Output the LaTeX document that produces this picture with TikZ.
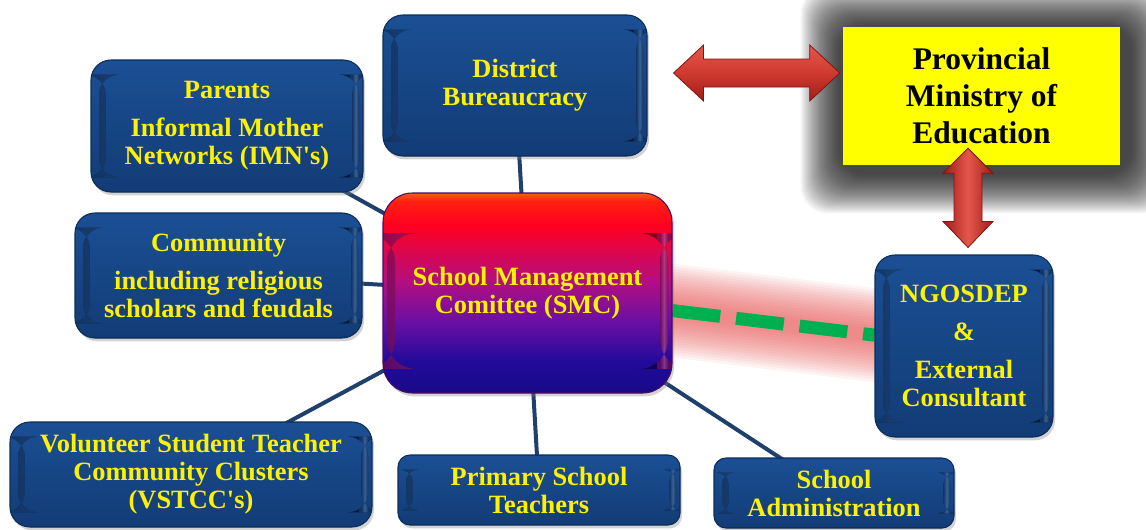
\documentclass[tikz,border=0pt]{standalone}
\usepackage{fontspec}
\setmainfont{Liberation Serif}
\usetikzlibrary{calc,shadows}
\definecolor{boxtop}{HTML}{1B4F94}
\definecolor{boxmid}{HTML}{174686}
\definecolor{boxbot}{HTML}{123C76}
\definecolor{boxedge}{HTML}{0D2C58}
\definecolor{boxhi}{HTML}{5C90D4}
\definecolor{linkblue}{HTML}{1F3F6C}
\definecolor{dashgreen}{HTML}{00B050}
\definecolor{glowred}{HTML}{E65050}
\definecolor{arrowlight}{HTML}{E4564C}
\definecolor{arrowmid}{HTML}{D03A30}
\definecolor{arrowdark}{HTML}{9E1E18}
\definecolor{arrowedge}{HTML}{7E1610}
\definecolor{smcA}{HTML}{180A88}
\definecolor{smcB}{HTML}{220A9A}
\definecolor{smcC}{HTML}{6A10A4}
\definecolor{smcD}{HTML}{B40E80}
\definecolor{smcE}{HTML}{FF0020}
\definecolor{smcF}{HTML}{FF2010}
\definecolor{smcG}{HTML}{F06018}
\definecolor{smcedge}{HTML}{4A0A60}
\definecolor{smchi}{HTML}{FF7AD8}
\definecolor{provyellow}{HTML}{FFFF00}
\pgfdeclareverticalshading{smcshade}{100bp}{color(0bp)=(smcA); color(25bp)=(smcA); color(33bp)=(smcB); color(43bp)=(smcC); color(53bp)=(smcD); color(67bp)=(smcE); color(73bp)=(smcF); color(75bp)=(smcG); color(100bp)=(smcG)}
\pgfdeclarelayer{background}
\pgfsetlayers{background,main}
\newcommand\dgboxfont{\fontsize{19.8}{21}\selectfont\bfseries}
\newcommand\dgprovfont{\fontsize{23.6}{27.75}\selectfont\bfseries}
\tikzset{
  bluebox/.style={rounded corners=15pt, draw=boxedge, line width=0.8pt,
    top color=boxtop, bottom color=boxbot, text=yellow, font=\dgboxfont,
    align=center, inner sep=0pt,
    drop shadow={opacity=0.35, shadow xshift=1.5pt, shadow yshift=-2.5pt},
    path picture={
      \fill[left color=boxmid, right color=boxmid, middle color=boxhi, opacity=0.6]
        ([xshift=6pt,yshift=-11pt]path picture bounding box.north west) rectangle
        ([xshift=11pt,yshift=11pt]path picture bounding box.south west);
      \fill[left color=boxmid, right color=boxmid, middle color=boxhi, opacity=0.6]
        ([xshift=-8pt,yshift=-11pt]path picture bounding box.north east) rectangle
        ([xshift=-3pt,yshift=11pt]path picture bounding box.south east);
    }},
  smcbox/.style={rounded corners=22pt, shading=smcshade, draw=smcedge, line width=0.8pt,
    text=yellow, font=\dgboxfont, align=center, inner sep=0pt,
    drop shadow={opacity=0.35, shadow xshift=1.5pt, shadow yshift=-2.5pt},
    path picture={
      \fill[left color=smcD, right color=smcD, middle color=smchi, opacity=0.45]
        ([xshift=3pt,yshift=-30pt]path picture bounding box.north west) rectangle
        ([xshift=9pt,yshift=18pt]path picture bounding box.south west);
      \fill[left color=smcD, right color=smcD, middle color=smchi, opacity=0.45]
        ([xshift=-9pt,yshift=-30pt]path picture bounding box.north east) rectangle
        ([xshift=-3pt,yshift=18pt]path picture bounding box.south east);
    }},
  provbox/.style={fill=provyellow, text=black, font=\dgprovfont, align=center, inner sep=0pt},
  link/.style={draw=linkblue, line width=3pt},
  greendash/.style={draw=dashgreen, line width=9.75pt, dash pattern=on 36pt off 12pt},
  harrow/.style={draw=arrowedge, line width=0.6pt, top color=arrowlight, bottom color=arrowdark, middle color=arrowmid},
  varrow/.style={draw=arrowedge, line width=0.6pt, left color=arrowdark, right color=arrowdark, middle color=arrowlight},
}
\begin{document}
\begin{tikzpicture}[x=0.75pt,y=-0.75pt]
\useasboundingbox (0,0) rectangle (1146,529);

\node[bluebox, minimum width=204pt, minimum height=99pt] (parents) at (227,126)
  {Parents\\[7.5pt]Informal Mother\\Networks (IMN\textquotesingle s)};
\node[bluebox, minimum width=198pt, minimum height=105.75pt] (district) at (515,85.5)
  {District\\Bureaucracy};
\node[bluebox, minimum width=215.25pt, minimum height=93.75pt] (community) at (218.5,275.5)
  {Community\\[7.5pt]including religious\\scholars and feudals};
\node[smcbox, minimum width=216.75pt, minimum height=150pt] (smc) at (527.5,293)
  {School Management\\Comittee (SMC)};
\node[bluebox, minimum width=271.5pt, minimum height=78.75pt] (vstcc) at (191,474.5)
  {Volunteer Student Teacher\\Community Clusters\\(VSTCC\textquotesingle s)};
\node[bluebox, rounded corners=9pt, minimum width=211.5pt, minimum height=52.5pt] (primary) at (539,490)
  {Primary School\\Teachers};
\node[bluebox, rounded corners=9pt, minimum width=180pt, minimum height=52.5pt] (admin) at (834,493)
  {School\\Administration};
\node[bluebox, minimum width=133.5pt, minimum height=136.5pt] (ngo) at (964,346)
  {NGOSDEP\\[7.5pt]\&\\[7.5pt]External\\Consultant};
\node[provbox, minimum width=207.75pt, minimum height=103.5pt] (prov) at (981.5,96)
  {Provincial\\Ministry of\\Education};

\begin{pgfonlayer}{background}
  % dark glow around the ministry box
  \foreach \i in {0,...,39}{
    \fill[black, opacity=0.03, rounded corners=20pt]
      ($(prov.north west)+(-42+\i,-40+\i)$) rectangle ($(prov.south east)+(50-\i,48-\i)$);
  }
  % red glow behind the dashed link
  \foreach \w in {70,66,...,10}{
    \draw[glowred, line width=\w pt, opacity=0.065] (smc.center) -- (ngo.center);
  }
  \draw[greendash] (smc) -- (ngo);
  \draw[link] (parents.center) -- (smc.center);
  \draw[link] (district.center) -- (smc.center);
  \draw[link] (community.center) -- (smc.center);
  \draw[link] (vstcc.center) -- (smc.center);
  \draw[link] (primary.center) -- (smc.center);
  \draw[link] (admin.center) -- (smc.center);
\end{pgfonlayer}

\coordinate (hl) at ($(district.east)+(26,-12.5)$);
\coordinate (hr) at ($(prov.west)+(-3,-23)$);
\coordinate (vt) at ($(prov.south)+(-13.5,-17)$);
\coordinate (vb) at ($(ngo.north)+(4,-7)$);

\path[harrow] (hl) -- ++(30,-28) -- ++(0,14) -- ($(hr)+(-30,-14)$) -- ++(0,-14) -- (hr)
  -- ++(-30,28) -- ++(0,-14) -- ($(hl)+(30,14)$) -- ++(0,14) -- cycle;
\path[varrow] (vt) -- ++(25,25) -- ++(-11,0) -- ($(vb)+(14,-26)$) -- ++(11,0) -- (vb)
  -- ++(-25,-26) -- ++(11,0) -- ($(vt)+(-14,25)$) -- ++(-11,0) -- cycle;
\end{tikzpicture}
\end{document}
